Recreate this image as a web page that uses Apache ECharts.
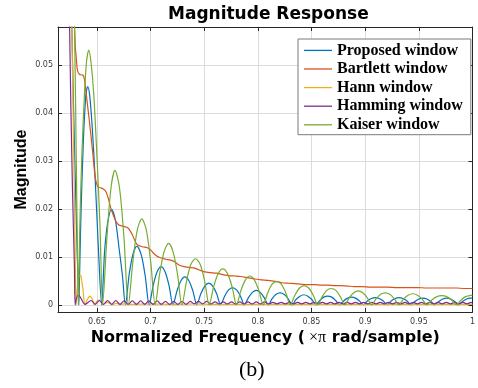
<!DOCTYPE html>
<html><head><meta charset="utf-8">
<script src="https://cdn.jsdelivr.net/npm/echarts@6/dist/echarts.min.js"></script>
<style>html,body{margin:0;padding:0;background:#fff}#c{width:478px;height:388px}</style>
</head><body><div id="c"></div>
<script>
const seriesNames = ['Proposed window','Bartlett window','Hann window','Hamming window','Kaiser window'];
const seriesColors = ['#0072BD','#D95319','#EDB120','#7E2F8E','#77AC30'];
const xTicks = [0.65,0.7,0.75,0.8,0.85,0.9,0.95,1];
const yTicks = [0,0.01,0.02,0.03,0.04,0.05];

const proposed = [[.6174,.2],[.6266,.058],[.6294,.03],[.6317,.01],[.6326,.004],[.6331,0],[.6337,.005],[.6350,.018],[.6373,.034],[.6396,.0435],[.6414,.0455],[.6433,.0435],[.6456,.037],[.6484,.026],[.6511,.013],[.6544,0],
[.6571,.011],[.6599,.017],[.6636,.0199],[.6673,.0175],[.6705,.012],[.6738,.006],[.6765,0],
[.6802,.0066],[.6839,.0108],[.6872,.0122],[.6913,.0104],[.6950,.006],[.6987,0],
[.7024,.004],[.7061,.0069],[.7098,.0079],[.7135,.0069],[.7172,.004],[.7209,0],
[.7246,.0029],[.7283,.005],[.7320,.0058],[.7357,.005],[.7394,.0029],[.7431,0],
[.7468,.0023],[.7505,.0039],[.7542,.0045],[.7579,.0039],[.7616,.0023],[.7653,0],
[.7690,.0018],[.7727,.0031],[.7764,.0036],[.7801,.0031],[.7838,.0018],[.7875,0],
[.7912,.0015],[.7949,.0026],[.7985,.003],[.8022,.0026],[.8059,.0015],[.8096,0],
[.8133,.0013],[.8170,.0022],[.8207,.0025],[.8244,.0022],[.8281,.0013],[.8318,0],
[.8355,.0011],[.8392,.0018],[.8429,.0021],[.8466,.0018],[.8503,.0011],[.8540,0],
[.8577,.0009],[.8614,.0016],[.8651,.0018],[.8688,.0016],[.8725,.0009],[.8762,0],
[.8799,.0008],[.8836,.0014],[.8873,.0016],[.8910,.0014],[.8947,.0008],[.8984,0],
[.9021,.0008],[.9058,.0013],[.9095,.0015],[.9132,.0013],[.9168,.0008],[.9205,0],
[.9242,.0008],[.9279,.0013],[.9316,.0015],[.9353,.0013],[.9390,.0008],[.9427,0],
[.9464,.0007],[.9501,.0012],[.9538,.0014],[.9575,.0012],[.9612,.0007],[.9649,0],
[.9686,.0007],[.9723,.0012],[.9760,.0014],[.9797,.0012],[.9834,.0007],[.9871,0],
[.9908,.0007],[.9945,.0012],[.9982,.0014],[1.0,.0014]];

const bartlett = [[.6248,.15],[.6291,.058],[.6315,.0493],[.6338,.048],[.6368,.0479],[.6384,.0469],[.6408,.0424],[.6430,.0382],[.6460,.0319],[.6485,.0264],[.6507,.0246],[.6534,.0244],[.6562,.0241],[.6583,.0236],[.6607,.0221],[.6630,.0201],[.6676,.0174],[.6701,.0167],[.6722,.0165],[.6756,.0163],[.6784,.0161],[.6807,.0155],[.6830,.0146],[.6853,.0134],[.6876,.0125],[.6923,.0121],[.6969,.0119],[.6997,.0115],[.7034,.0106],[.7080,.0099],[.7142,.0095],[.7188,.0093],[.7228,.0089],[.7265,.0083],[.7302,.008],[.7357,.0078],[.7403,.0077],[.7449,.0073],[.7496,.0069],[.7551,.0067],[.7616,.0066],[.7671,.0063],[.7727,.0061],[.7782,.006],[.7838,.0059],[.7912,.0056],[.7967,.0054],[.8032,.0052],[.8096,.0051],[.8161,.0049],[.8226,.0046],[.8281,.0045],[.8346,.0044],[.8401,.0043],[.8466,.0042],[.8531,.0042],[.8586,.0041],[.8651,.0041],[.8716,.004],[.8771,.004],[.8836,.0039],[.8900,.0038],[.8974,.0038],[.9048,.0037],[.9122,.0037],[.9205,.0037],[.9298,.0036],[.9390,.0036],[.9483,.0036],[.9575,.0035],[.9668,.0035],[.9760,.0035],[.9852,.0035],[.9926,.0034],[1.0,.0034]];

const hann = [[.6174,.2],[.6266,.058],[.6288,.025],[.6300,.006],[.6306,0],[.6320,.004],[.6338,.0062],[.6350,.0061],[.6368,.0035],[.6389,0],[.6412,.0012],[.6436,.0018],[.6458,.0011],[.6476,0],[.6498,.0007],[.6519,.001],[.6539,.0006],[.6558,0],[.6580,.0004],[.6600,.0005],[.6620,.0003],[.6640,0],[.6680,.0003],[.6720,.0001],[.6760,.0002],[.6800,.0001],[.70,.0002],[.72,.0001],[.74,.0002],[.76,.0001],[.78,.0001],[.80,.0001],[.85,.0001],[.90,.0001],[.95,.0001],[1.0,.0001]];

const hamming = [[.6174,.2],[.6245,.058],[.6271,.025],[.6290,.008],[.6297,0],[.6308,.0013],[.6328,.0021],[.6352,.0013],[.6390,.0001],
[.6445,.0009],[.6484,.0001],[.6522,.0009],[.6561,.0001],[.6599,.0009],[.6638,.0001],[.6676,.0009],[.6715,.0001],[.6753,.0008],[.6792,.0001],[.6830,.0008],[.6869,.0001],[.6907,.0008],[.6946,.0001],[.6984,.0008],[.7023,.0001],[.7061,.0008],[.7100,.0001],[.7138,.0007],[.7177,.0001],[.7215,.0007],[.7254,.0001],[.7292,.0007],[.7331,.0001],[.7369,.0007],[.7408,.0002],[.7446,.0007],[.7485,.0002],[.7523,.0007],[.7562,.0002],[.7600,.0006],[.7639,.0002],[.7677,.0006],[.7716,.0002],[.7754,.0006],[.7793,.0002],[.7831,.0006],[.7870,.0002],[.7908,.0006],[.7947,.0002],[.7985,.0006],[.8024,.0002],[.8062,.0006],[.8101,.0002],[.8139,.0005],[.8178,.0002],[.8216,.0005],[.8255,.0002],[.8293,.0005],[.8332,.0002],[.8370,.0005],[.8409,.0002],[.8447,.0005],[.8486,.0002],[.8524,.0005],[.8563,.0002],[.8601,.0005],[.8640,.0002],[.8678,.0005],[.8717,.0002],[.8755,.0005],[.8794,.0002],[.8832,.0005],[.8871,.0002],[.8909,.0005],[.8948,.0002],[.8986,.0005],[.9025,.0002],[.9063,.0005],[.9102,.0002],[.9140,.0005],[.9179,.0002],[.9217,.0005],[.9256,.0002],[.9294,.0005],[.9333,.0002],[.9371,.0005],[.9410,.0002],[.9448,.0005],[.9487,.0002],[.9525,.0005],[.9564,.0002],[.9602,.0005],[.9641,.0002],[.9679,.0005],[.9718,.0002],[.9756,.0005],[.9795,.0002],[.9833,.0005],[.9872,.0002],[.9910,.0005],[.9949,.0002],[.9987,.0005],[1.0,.0004]];

const kaiser = [[.6174,.2],[.6291,.058],[.6309,.027],[.6320,.008],[.6326,0],[.6332,.006],[.6340,.016],[.6359,.031],[.6384,.044],[.6402,.0505],[.6424,.0531],[.6445,.0505],[.6470,.044],[.6500,.031],[.6528,.0167],[.6553,0],
[.6593,.014],[.6631,.0244],[.6668,.028],[.6710,.0244],[.6752,.014],[.6793,0],
[.6835,.009],[.6876,.0156],[.6918,.0179],[.6960,.0156],[.7001,.009],[.7043,0],
[.7084,.0064],[.7126,.0111],[.7168,.0128],[.7209,.0111],[.7251,.0064],[.7292,0],
[.7334,.0048],[.7375,.0084],[.7419,.0096],[.7463,.0084],[.7505,.0048],[.7546,0],
[.7588,.0038],[.7630,.0065],[.7674,.0075],[.7717,.0065],[.7759,.0038],[.7801,0],
[.7842,.003],[.7884,.0052],[.7925,.006],[.7967,.0052],[.8009,.003],[.8050,0],
[.8092,.0025],[.8133,.0043],[.8176,.0049],[.8218,.0043],[.8260,.0025],[.8302,0],
[.8345,.002],[.8388,.0035],[.8430,.004],[.8473,.0035],[.8516,.002],[.8558,0],
[.8600,.0017],[.8642,.003],[.8684,.0034],[.8727,.003],[.8768,.0017],[.8811,0],
[.8852,.0015],[.8894,.0025],[.8936,.0029],[.8977,.0025],[.9019,.0015],[.9060,0],
[.9103,.0013],[.9144,.0022],[.9187,.0025],[.9229,.0022],[.9271,.0013],[.9314,0],
[.9357,.0012],[.9400,.002],[.9445,.0023],[.9488,.002],[.9532,.0012],[.9575,0],
[.9621,.001],[.9668,.0017],[.9714,.0019],[.9760,.0017],[.9806,.001],[.9852,0],
[.9894,.001],[.9936,.0017],[.9973,.0019],[1.0,.002]];

const allData = [proposed, bartlett, hann, hamming, kaiser];
const X_MIN = 0.6137, X_MAX = 1, Y_MIN = -0.0015, Y_MAX = 0.0579;

const chart = echarts.init(document.getElementById('c'), null, {renderer:'canvas'});
const axisColor = '#262626';
const tickLabel = {fontFamily:'DejaVu Sans', fontSize:8, color:'#3a3a3a'};
chart.setOption({
  animation:false,
  backgroundColor:'#fff',
  title:[
    {text:'Magnitude Response', left:168, top:6, padding:0,
     textStyle:{fontFamily:'DejaVu Sans', fontWeight:'bold', fontSize:17, color:'#000'}},
    {text:'(b)', left:239, top:359, padding:0,
     textStyle:{fontFamily:'Liberation Serif', fontWeight:'normal', fontSize:22, color:'#000'}}
  ],
  grid:{left:58, right:2, top:27, bottom:76, containLabel:false},
  legend:{
    orient:'vertical', left:298, top:39, padding:[3.4,8,1.9,6],
    icon:'rect', itemWidth:28, itemHeight:1.3, itemGap:2.6,
    backgroundColor:'#fff', borderColor:'#7a7a7a', borderWidth:1, borderRadius:0,
    textStyle:{fontFamily:'Liberation Serif', fontWeight:'bold', fontSize:16, lineHeight:16, color:'#000'},
    data:seriesNames
  },
  xAxis:[{
    type:'value', min:X_MIN, max:X_MAX, position:'bottom',
    name:'{b|Normalized Frequency (}{n| ×π}{b| rad/sample)}',
    nameLocation:'middle', nameGap:18, nameMoveOverlap:false,
    nameTextStyle:{rich:{
      b:{fontFamily:'DejaVu Sans', fontWeight:'bold', fontSize:16, color:'#000'},
      n:{fontFamily:'Liberation Serif', fontWeight:'normal', fontSize:16, color:'#000'}}},
    axisLine:{show:true, onZero:false, lineStyle:{color:axisColor, width:1}},
    axisTick:{show:true, inside:true, length:4, customValues:xTicks, lineStyle:{color:axisColor}},
    axisLabel:{show:true, margin:6, customValues:xTicks, ...tickLabel},
    splitLine:{show:true, lineStyle:{color:'#dcdcdc', width:1}}
  },{
    type:'value', min:X_MIN, max:X_MAX, position:'top',
    axisLine:{show:true, onZero:false, lineStyle:{color:axisColor, width:1}},
    axisTick:{show:true, inside:true, length:4, customValues:xTicks, lineStyle:{color:axisColor}},
    axisLabel:{show:false}, splitLine:{show:false}
  }],
  yAxis:[{
    type:'value', min:Y_MIN, max:Y_MAX, position:'left',
    name:'Magnitude', nameLocation:'middle', nameGap:28, nameMoveOverlap:false,
    nameTextStyle:{fontFamily:'Liberation Sans', fontWeight:'bold', fontSize:16, color:'#000'},
    axisLine:{show:true, onZero:false, lineStyle:{color:axisColor, width:1}},
    axisTick:{show:true, inside:true, length:4, customValues:yTicks, lineStyle:{color:axisColor}},
    axisLabel:{show:true, margin:5, customValues:yTicks, ...tickLabel},
    splitLine:{show:true, lineStyle:{color:'#dcdcdc', width:1}}
  },{
    type:'value', min:Y_MIN, max:Y_MAX, position:'right',
    axisLine:{show:true, onZero:false, lineStyle:{color:axisColor, width:1}},
    axisTick:{show:true, inside:true, length:4, customValues:yTicks, lineStyle:{color:axisColor}},
    axisLabel:{show:false}, splitLine:{show:false}
  }],
  series: seriesNames.map((n,i)=>({
    name:n, type:'line', xAxisIndex:0, yAxisIndex:0,
    data:allData[i], smooth:0.3, symbol:'none', showSymbol:false, clip:true,
    lineStyle:{color:seriesColors[i], width:1.2}, itemStyle:{color:seriesColors[i]},
    z: 2+i
  }))
});
</script></body></html>
